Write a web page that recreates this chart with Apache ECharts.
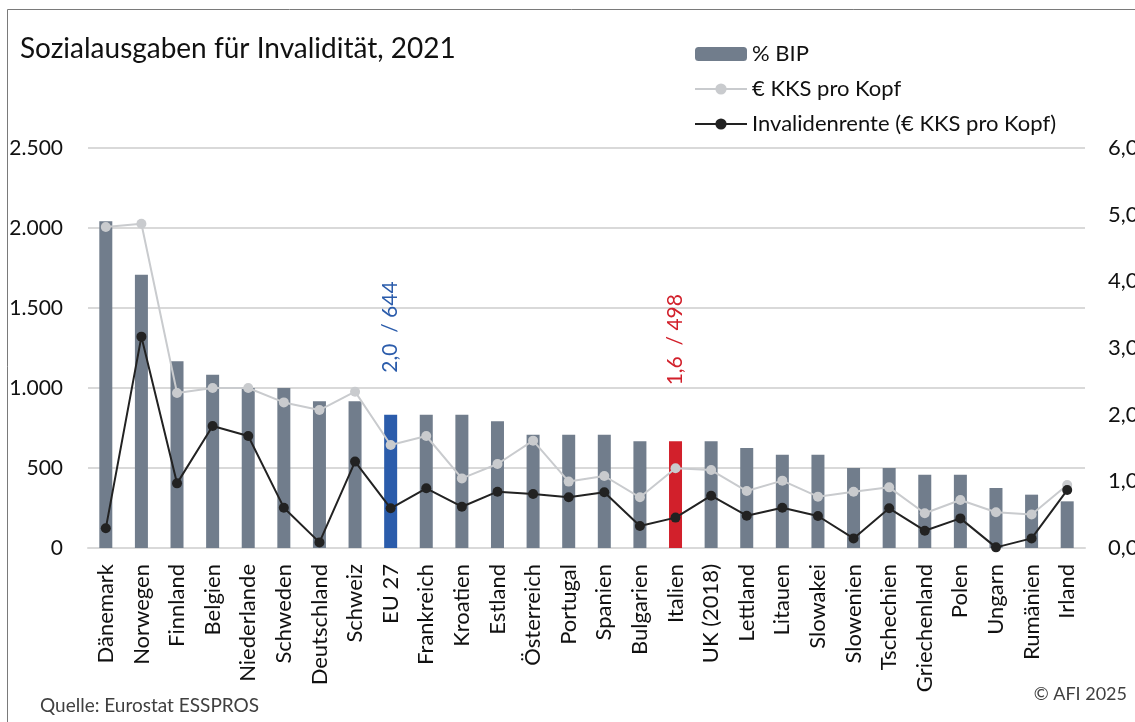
<!DOCTYPE html>
<html>
<head>
<meta charset="utf-8">
<script src="https://cdn.jsdelivr.net/npm/echarts@6/dist/echarts.min.js"></script>
<style>
  html, body { margin: 0; padding: 0; background: #fff; }
  #main { width: 1135px; height: 722px; }
</style>
</head>
<body>
<div id="main"></div>
<script>
var countries = ['Dänemark', 'Norwegen', 'Finnland', 'Belgien', 'Niederlande', 'Schweden',
  'Deutschland', 'Schweiz', 'EU 27', 'Frankreich', 'Kroatien', 'Estland', 'Österreich',
  'Portugal', 'Spanien', 'Bulgarien', 'Italien', 'UK (2018)', 'Lettland', 'Litauen',
  'Slowakei', 'Slowenien', 'Tschechien', 'Griechenland', 'Polen', 'Ungarn', 'Rumänien', 'Irland'];

// % BIP (rechte Achse)
var bip = [4.9, 4.1, 2.8, 2.6, 2.4, 2.4, 2.2, 2.2, 2.0, 2.0, 2.0, 1.9, 1.7, 1.7, 1.7, 1.6,
  1.6, 1.6, 1.5, 1.4, 1.4, 1.2, 1.2, 1.1, 1.1, 0.9, 0.8, 0.7];

// € KKS pro Kopf (linke Achse)
var kks = [2006, 2027, 969, 1000, 1000, 910, 862, 977, 644, 700, 435, 525, 671, 415, 450, 317,
  498, 487, 356, 421, 321, 352, 379, 217, 300, 223, 210, 394];

// Invalidenrente (€ KKS pro Kopf)
var rente = [123, 1321, 404, 762, 700, 252, 35, 540, 248, 373, 258, 352, 337, 317, 348, 137,
  190, 327, 202, 252, 200, 60, 248, 108, 185, 4, 60, 362];

var highlight = { 'EU 27': '#2b5cab', 'Italien': '#d2202b' };
var labelGap = { 'EU 27': 42, 'Italien': 56 };

var FONT = 'Lato';

function deNum(v, d) {
  return v.toFixed(d).replace('.', ',').replace(/\B(?=(\d{3})+(?!\d))/g, '.');
}

var barData = bip.map(function (v, i) {
  var c = countries[i];
  if (!highlight[c]) return v;
  return {
    value: v,
    itemStyle: { color: highlight[c] },
    label: {
      show: true,
      position: 'top',
      rotate: 90,
      align: 'left',
      verticalAlign: 'middle',
      distance: labelGap[c],
      color: highlight[c],
      fontSize: 21,
      fontFamily: FONT,
      formatter: deNum(v, 1) + '  / ' + kks[i]
    }
  };
});

var chart = echarts.init(document.getElementById('main'));

chart.setOption({
  animation: false,
  textStyle: { fontFamily: FONT },
  graphic: [
    { type: 'rect', shape: { x: 7.5, y: 9.5, width: 1300, height: 900 },
      style: { fill: 'none', stroke: '#7a7a7a', lineWidth: 1 }, silent: true },
    { type: 'text', left: 20, top: 35,
      style: { text: 'Sozialausgaben für Invalidität, 2021', fontSize: 28, fontFamily: FONT, fill: '#111' } },
    { type: 'text', left: 40, top: 696,
      style: { text: 'Quelle: Eurostat ESSPROS', fontSize: 19, fontFamily: FONT, fill: '#404040' } },
    { type: 'text', right: 8, top: 685,
      style: { text: '© AFI 2025', fontSize: 18, fontFamily: FONT, fill: '#404040' } }
  ],
  legend: {
    orient: 'vertical',
    left: 689,
    top: 38,
    itemWidth: 52,
    itemHeight: 14,
    itemGap: 13,
    textStyle: { fontSize: 22, color: '#111', fontFamily: FONT },
    data: ['% BIP', '€ KKS pro Kopf', 'Invalidenrente (€ KKS pro Kopf)']
  },
  grid: { left: 88, right: 50, top: 148, bottom: 174, containLabel: false, outerBoundsMode: 'none' },
  xAxis: {
    type: 'category',
    data: countries,
    axisLine: { lineStyle: { color: '#d9d9d9', width: 2 } },
    axisTick: { show: false },
    axisLabel: { rotate: 90, interval: 0, margin: 16, fontSize: 22, color: '#111', fontFamily: FONT }
  },
  yAxis: [
    {
      type: 'value', min: 0, max: 2500, interval: 500,
      axisLine: { show: false }, axisTick: { show: false },
      splitLine: { lineStyle: { color: '#d9d9d9', width: 2 } },
      axisLabel: { fontSize: 21, color: '#111', margin: 25, fontFamily: FONT,
        formatter: function (v) { return deNum(v, 0); } }
    },
    {
      type: 'value', min: 0, max: 6, interval: 1, position: 'right',
      axisLine: { show: false }, axisTick: { show: false }, splitLine: { show: false },
      axisLabel: { fontSize: 22, color: '#111', margin: 23, fontFamily: FONT,
        formatter: function (v) { return deNum(v, 1); } }
    }
  ],
  series: [
    {
      name: '% BIP', type: 'bar', yAxisIndex: 1, barWidth: 13,
      itemStyle: { color: '#717d8c' },
      data: barData, z: 1
    },
    {
      name: '€ KKS pro Kopf', type: 'line', yAxisIndex: 0,
      symbol: 'circle', symbolSize: 10,
      lineStyle: { color: '#c9cbce', width: 2 },
      itemStyle: { color: '#c9cbce' },
      data: kks, z: 2
    },
    {
      name: 'Invalidenrente (€ KKS pro Kopf)', type: 'line', yAxisIndex: 0,
      symbol: 'circle', symbolSize: 10,
      lineStyle: { color: '#222', width: 2 },
      itemStyle: { color: '#222' },
      data: rente, z: 3
    }
  ]
});
</script>
</body>
</html>
